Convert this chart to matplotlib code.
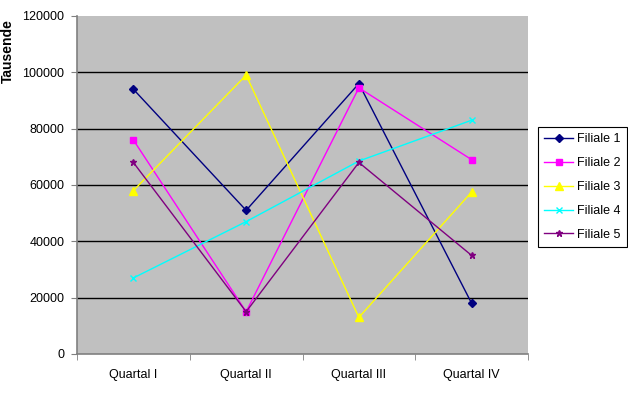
import matplotlib
matplotlib.use("Agg")
import matplotlib.pyplot as plt
import numpy as np

plt.rcParams['font.family'] = ['Liberation Sans', 'DejaVu Sans']

categories = ["Quartal I", "Quartal II", "Quartal III", "Quartal IV"]
filiale1 = [94000, 51000, 96000, 18000]
filiale2 = [76000, 15000, 94500, 69000]
filiale3 = [58000, 99000, 13000, 57500]
filiale4 = [27000, 47000, 68500, 83000]
filiale5 = [68000, 15000, 68000, 35000]
series_names = ["Filiale 1", "Filiale 2", "Filiale 3", "Filiale 4", "Filiale 5"]
yticks = [0, 20000, 40000, 60000, 80000, 100000, 120000]

series = [filiale1, filiale2, filiale3, filiale4, filiale5]
colors = ["#000080", "#FF00FF", "#FFFF00", "#00FFFF", "#800080"]
markers = ["D", "s", "^", "x", "*"]
msizes = [4, 5, 6, 5, 5]

fig = plt.figure(figsize=(6.28, 3.93), dpi=100)
ax = fig.add_axes([77/628, 1-354/393, 451/628, 338/393])
ax.set_facecolor("#C0C0C0")

x = np.arange(len(categories))
for vals, name, c, m, ms in zip(series, series_names, colors, markers, msizes):
    ax.plot(x, vals, color=c, marker=m, markersize=ms, linewidth=1,
            label=name, markeredgecolor=c, markerfacecolor=c)

ax.set_xlim(-0.5, len(categories) - 0.5)
ax.set_ylim(0, 120000)
ax.set_yticks(yticks)
ax.set_yticklabels([str(v) for v in yticks], fontsize=9)
for yv in yticks[1:-1]:
    ax.axhline(yv, color="black", linewidth=1, zorder=0.5)

ax.set_xticks(x)
ax.set_xticklabels(categories, fontsize=9)
ax.set_xticks(np.arange(-0.5, len(categories), 1.0), minor=True)
ax.tick_params(axis='x', which='major', length=0, pad=11)
ax.tick_params(axis='x', which='minor', length=4, color="#808080", direction='out')
ax.tick_params(axis='y', length=4, color="#808080", direction='out', pad=5)

for s in ["left", "bottom"]:
    ax.spines[s].set_color("#808080")
    ax.spines[s].set_linewidth(1.2)
for s in ["right", "top"]:
    ax.spines[s].set_visible(False)

fig.text(8/628, 1-51/393, "Tausende", rotation=90, fontsize=10, fontweight="bold",
         ha="center", va="center")

leg = fig.legend(loc="upper left", bbox_to_anchor=(538/628, 1-127/393), fontsize=9,
                 frameon=True, fancybox=False, edgecolor="black", framealpha=1,
                 borderpad=0.5, labelspacing=0.95, handlelength=2.3, handletextpad=0.35,
                 borderaxespad=0)
leg.get_frame().set_linewidth(0.8)

fig.savefig("out.png", dpi=100, facecolor="white")
